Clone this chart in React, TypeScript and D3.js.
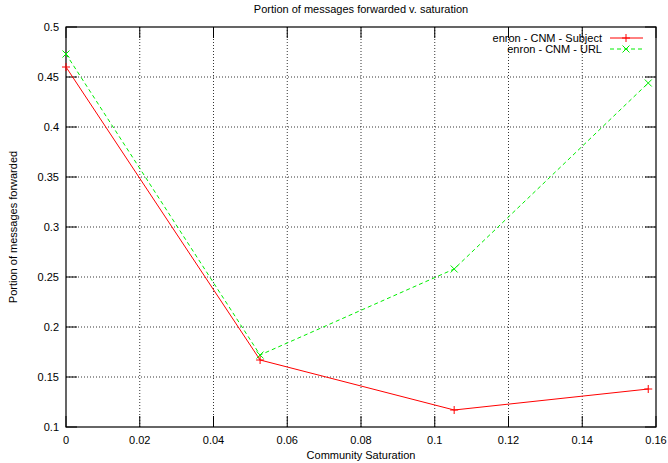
import * as d3 from "d3";

const saturation = [0, 1 / 19, 2 / 19, 3 / 19];
const subjectValues = [0.46, 0.167, 0.117, 0.138];
const urlValues = [0.473, 0.172, 0.258, 0.444];
const xTicks = [0, 0.02, 0.04, 0.06, 0.08, 0.1, 0.12, 0.14, 0.16];
const yTicks = [0.1, 0.15, 0.2, 0.25, 0.3, 0.35, 0.4, 0.45, 0.5];

const W = 668;
const H = 463;
const margin = { top: 27, right: 12, bottom: 36, left: 66 };
const FONT = "'Liberation Sans', Arial, Helvetica, sans-serif";

export default function App() {
  const innerW = W - margin.left - margin.right;
  const innerH = H - margin.top - margin.bottom;
  const x = d3.scaleLinear().domain([0, 0.16]).range([0, innerW]);
  const y = d3.scaleLinear().domain([0.1, 0.5]).range([innerH, 0]);
  const line = d3
    .line<number>()
    .x((_, i) => x(saturation[i]))
    .y((d) => y(d));

  const tickLen = 11;
  const plus = (cx: number, cy: number, s = 4) => `M${cx - s},${cy}H${cx + s}M${cx},${cy - s}V${cy + s}`;
  const cross = (cx: number, cy: number, s = 3.5) =>
    `M${cx - s},${cy - s}L${cx + s},${cy + s}M${cx - s},${cy + s}L${cx + s},${cy - s}`;

  return (
    <div style={{ position: "fixed", left: 0, top: 0 }}>
      <svg width={W} height={H} style={{ display: "block", background: "#fff" }} fontFamily={FONT}>
        <text x={361} y={13} fontSize={11} textAnchor="middle">
          Portion of messages forwarded v. saturation
        </text>
        <g transform={`translate(${margin.left},${margin.top})`}>
          {/* grid */}
          {xTicks.slice(1, -1).map((t) => (
            <line key={"gx" + t} x1={x(t)} x2={x(t)} y1={0} y2={innerH} stroke="#000" strokeWidth={0.8} strokeDasharray="1,2" />
          ))}
          {yTicks.slice(1, -1).map((t) => (
            <line key={"gy" + t} x1={0} x2={innerW} y1={y(t)} y2={y(t)} stroke="#000" strokeWidth={0.8} strokeDasharray="1,2" />
          ))}
          {/* ticks */}
          {xTicks.map((t) => (
            <g key={"tx" + t}>
              <line x1={x(t)} x2={x(t)} y1={innerH} y2={innerH - tickLen} stroke="#000" />
              <line x1={x(t)} x2={x(t)} y1={0} y2={tickLen} stroke="#000" />
              <text x={x(t)} y={innerH + 17} fontSize={11} textAnchor="middle">
                {d3.format("~g")(t)}
              </text>
            </g>
          ))}
          {yTicks.map((t) => (
            <g key={"ty" + t}>
              <line x1={0} x2={tickLen} y1={y(t)} y2={y(t)} stroke="#000" />
              <line x1={innerW} x2={innerW - tickLen} y1={y(t)} y2={y(t)} stroke="#000" />
              <text x={-7} y={y(t) + 4} fontSize={11} textAnchor="end">
                {d3.format("~g")(t)}
              </text>
            </g>
          ))}
          <rect x={0} y={0} width={innerW} height={innerH} fill="none" stroke="#000" strokeWidth={1.2} />

          {/* series */}
          <path d={line(subjectValues) ?? ""} fill="none" stroke="#ff0000" strokeWidth={1} />
          {subjectValues.map((v, i) => (
            <path key={"ps" + i} d={plus(x(saturation[i]), y(v))} stroke="#ff0000" strokeWidth={1} />
          ))}
          <path d={line(urlValues) ?? ""} fill="none" stroke="#00ee00" strokeWidth={1} strokeDasharray="4,3" />
          {urlValues.map((v, i) => (
            <path key={"pu" + i} d={cross(x(saturation[i]), y(v))} stroke="#00ee00" strokeWidth={1} />
          ))}

          {/* legend */}
          <g transform={`translate(${innerW - 46},0)`}>
            <text x={-8} y={15} fontSize={11} textAnchor="end">enron - CNM - Subject</text>
            <line x1={0} x2={33} y1={11} y2={11} stroke="#ff0000" />
            <path d={plus(16, 11)} stroke="#ff0000" />
            <text x={-8} y={26} fontSize={11} textAnchor="end">enron - CNM - URL</text>
            <line x1={0} x2={33} y1={22} y2={22} stroke="#00ee00" strokeDasharray="4,3" />
            <path d={cross(16, 22)} stroke="#00ee00" />
          </g>
        </g>
        <text x={361} y={459} fontSize={11} textAnchor="middle">
          Community Saturation
        </text>
        <text transform={`translate(17,${margin.top + innerH / 2}) rotate(-90)`} fontSize={11} textAnchor="middle">
          Portion of messages forwarded
        </text>
      </svg>
    </div>
  );
}
